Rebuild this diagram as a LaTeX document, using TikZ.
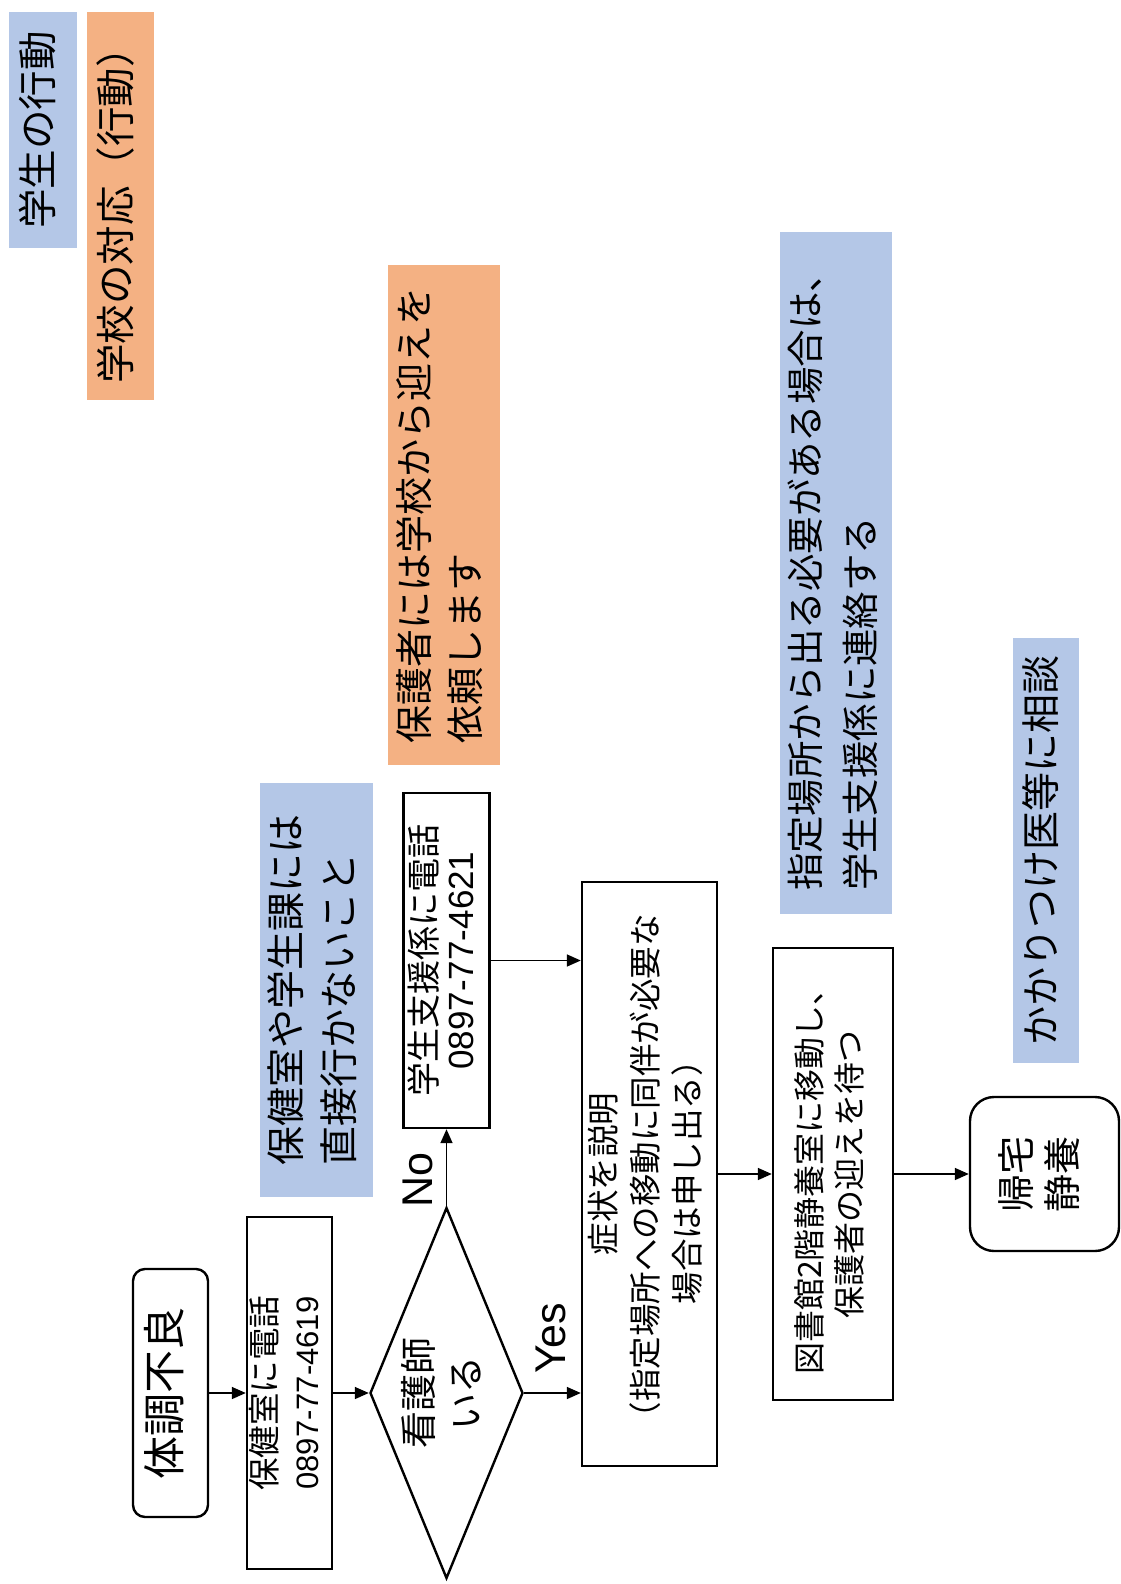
\documentclass[tikz,border=0pt]{standalone}
\usepackage{fontspec}
\setmainfont{Noto Sans CJK JP}
\newfontfamily\latinfont{Liberation Sans}
\usetikzlibrary{shapes.geometric,arrows.meta}
\definecolor{bluebox}{RGB}{180,199,231}
\definecolor{orangebox}{RGB}{244,177,131}
\newcommand\fs[2]{\fontsize{#1}{#2}\selectfont}
\newcommand\vc[1]{\rotatebox{90}{\begin{tabular}{@{}c@{}}#1\end{tabular}}}
\newcommand\vl[1]{\rotatebox{90}{\begin{tabular}{@{}l@{}}#1\end{tabular}}}
\newcommand\num[2]{{\latinfont\fontsize{#1}{20}\selectfont #2}}
\begin{document}
\begin{tikzpicture}[x=0.5pt,y=-0.5pt,
  flowbox/.style={draw, line width=1.2pt, inner sep=0pt, fill=white},
  roundbox/.style={flowbox, rounded corners=#1},
  bluenote/.style={fill=bluebox, inner sep=0pt},
  orangenote/.style={fill=orangebox, inner sep=0pt},
  arr/.style={-{Triangle[length=7pt,width=6pt]}, line width=0.8pt},
  lbl/.style={inner sep=0pt, font=\latinfont\fontsize{21.5}{26}\selectfont}]
\useasboundingbox (0,0) rectangle (1120,1584);

% legend
\node[bluenote, minimum width=34pt, minimum height=118pt, font=\fs{19.75}{24}] (leg1) at (43,130) {\vc{学生の行動}};
\node[orangenote, minimum width=33.5pt, minimum height=194pt, font=\fs{19.75}{24}] (leg2) at (120.5,206) {\vc{学校の対応（行動）}};

% notes
\node[orangenote, minimum width=56pt, minimum height=250pt, font=\fs{19}{25.5}] (req) at (444,515) {\vl{保護者には学校から迎えを\\依頼します}};
\node[bluenote, minimum width=56pt, minimum height=341pt, font=\fs{18.7}{27.5}] (contact) at (836,573) {\vl{指定場所から出る必要がある場合は、\\学生支援係に連絡する}};
\node[bluenote, minimum width=33pt, minimum height=212.5pt, font=\fs{19.5}{24}] (doctor) at (1046,850.5) {\vc{かかりつけ医等に相談}};
\node[bluenote, minimum width=56.5pt, minimum height=207pt, font=\fs{19.5}{26.5}] (warn) at (316.5,990) {\vl{保健室や学生課には\\直接行かないこと}};

% flow
\node[roundbox=6pt, minimum width=37.5pt, minimum height=124pt, font=\fs{21.5}{26}] (sick) at (170.5,1393) {\vc{体調不良}};
\node[flowbox, minimum width=42.5pt, minimum height=176pt, font=\fs{16.25}{21}] (hoken) at (289.5,1393) {\vc{保健室に電話\\\num{15.5}{0897-77-4619}}};
\node[draw, diamond, aspect=0.41, line width=1.2pt, inner sep=0pt, minimum width=76.5pt, minimum height=185.5pt, font=\fs{18.5}{23.5}] (nurse) at (446.5,1393) {\vc{看護師\\いる}};
\node[flowbox, minimum width=43pt, minimum height=167.5pt, font=\fs{17}{18.5}] (sup) at (446.5,960.5) {\vc{学生支援係に電話\\\num{17.5}{0897-77-4621}}};
\node[flowbox, minimum width=67.5pt, minimum height=292pt, font=\fs{16.25}{21}] (sym) at (649.5,1174) {\vc{症状を説明\\（指定場所への移動に同伴が必要な\\場合は申し出る）}};
\node[flowbox, minimum width=60pt, minimum height=226pt, font=\fs{16}{20}] (lib) at (833,1174) {\vc{図書館2階静養室に移動し、\\保護者の迎えを待つ}};
\node[roundbox=12pt, minimum width=74.5pt, minimum height=77pt, font=\fs{19}{23}] (home) at (1044.5,1174) {\vc{帰宅\\静養}};

% labels
\node[lbl] (yes) at (551,1338) {\rotatebox{90}{Yes}};
\node[lbl] (no) at (418,1180) {\rotatebox{90}{No}};

% connectors
\draw[arr] (sick) -- (hoken);
\draw[arr] (hoken) -- (nurse);
\draw[arr] (nurse.east) -- (nurse.east -| sym.west);
\draw[arr] (nurse.north) -- (sup.south);
\draw[arr] (sup.east) -- (sup.east -| sym.west);
\draw[arr] (sym) -- (lib);
\draw[arr] (lib) -- (home);
\end{tikzpicture}
\end{document}
